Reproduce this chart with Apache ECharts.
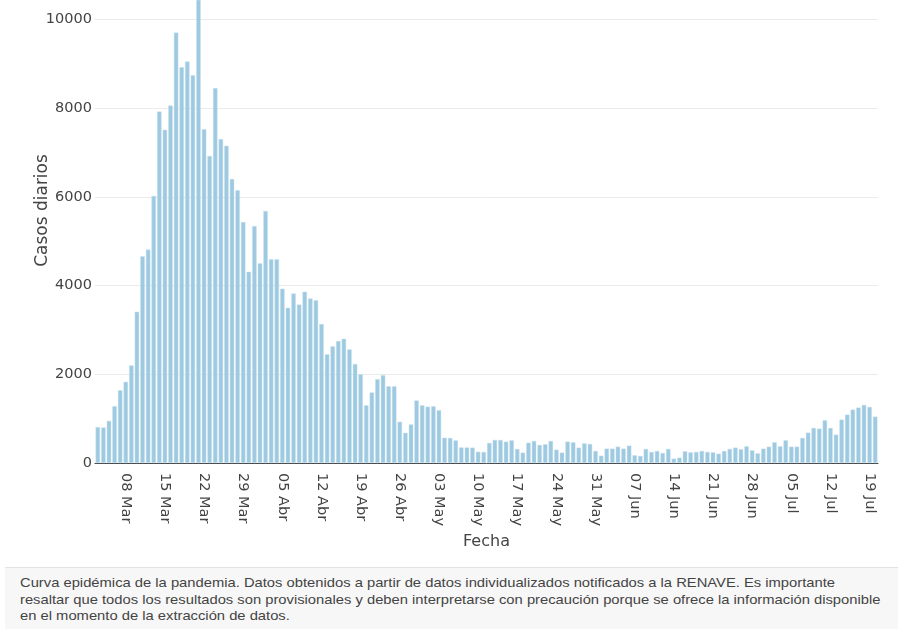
<!DOCTYPE html>
<html>
<head>
<meta charset="utf-8">
<title>Curva epidémica</title>
<script src="https://cdn.jsdelivr.net/npm/echarts@6/dist/echarts.min.js"></script>
<style>
    html, body { margin: 0; padding: 0; background: #fff; }
    #chart-container { position: absolute; left: 0; top: 0; width: 898px; height: 629px; }
    #nota {
        position: absolute; left: 5px; top: 567px; width: 893px; height: 61px;
        background: #f7f7f7; border-top: 1px solid #e3e3e3; overflow: hidden;
    }
    #nota div {
        position: absolute; left: 15px; top: 7px; width: 800px;
        transform: scaleX(1.135); transform-origin: 0 0;
        font-family: "Liberation Sans", Arial, sans-serif; font-size: 13px; line-height: 16.5px; color: #444;
        white-space: nowrap;
    }
</style>
</head>
<body>
<div id="chart-container"></div>
<div id="nota"><div>Curva epidémica de la pandemia. Datos obtenidos a partir de datos individualizados notificados a la RENAVE. Es importante<br>resaltar que todos los resultados son provisionales y deben interpretarse con precaución porque se ofrece la información disponible<br>en el momento de la extracción de datos.</div></div>
<script>
// primer día de la serie y meses para las etiquetas
var startDate = [2020, 2, 3];
var monthNames = ['Ene', 'Feb', 'Mar', 'Abr', 'May', 'Jun', 'Jul', 'Ago', 'Sep', 'Oct', 'Nov', 'Dic'];

// casos diarios (03 Mar - 20 Jul)
var casosDiarios = [
    810, 800, 950, 1280, 1640, 1830, 2200, 3410, 4660, 4810,
    6020, 7920, 7510, 8060, 9700, 8920, 9050, 8740, 10900, 7520,
    6920, 8450, 7300, 7150, 6400, 6150, 5430, 4310, 5340, 4500,
    5680, 4590, 4590, 3930, 3500, 3820, 3570, 3860, 3710, 3670,
    3130, 2450, 2630, 2750, 2800, 2560, 2230, 2000, 1300, 1590,
    1890, 1980, 1730, 1730, 930, 680, 870, 1410, 1300, 1270,
    1280, 1190, 570, 565, 510, 350, 350, 347, 255, 249,
    452, 519, 519, 482, 512, 317, 234, 459, 497, 407,
    422, 497, 301, 234, 482, 467, 347, 444, 429, 271,
    166, 324, 324, 369, 324, 392, 174, 159, 317, 249,
    271, 226, 317, 99, 121, 264, 241, 249, 271, 249,
    241, 211, 271, 317, 347, 309, 377, 286, 219, 324,
    369, 467, 377, 512, 369, 369, 565, 685, 790, 775,
    963, 790, 640, 978, 1091, 1204, 1249, 1309, 1264, 1046
];

var yTicks = [0, 2000, 4000, 6000, 8000, 10000];
var yMax = 10435; // el pico sale por arriba del recorte

(function () {
    var domChart = document.getElementById('chart-container');
    var ioChart = echarts.init(domChart);

    var fechas = [];
    for (var i = 0; i < casosDiarios.length; i++) {
        var d = new Date(startDate[0], startDate[1], startDate[2] + i);
        var dd = d.getDate() < 10 ? '0' + d.getDate() : '' + d.getDate();
        fechas.push(dd + ' ' + monthNames[d.getMonth()]);
    }

    var txtColor = '#444';
    var chartOption = {
        backgroundColor: 'rgba(0,0,0,0)',
        animation: false,
        textStyle: {
            fontFamily: 'DejaVu Sans'
        },
        grid: {
            left: 95,
            right: 20,
            top: 0,
            bottom: 166
        },
        xAxis: {
            type: 'category',
            data: fechas,
            name: 'Fecha',
            nameLocation: 'middle',
            nameGap: 68,
            nameTextStyle: {
                color: txtColor,
                fontSize: 16
            },
            axisTick: { show: false },
            axisLine: {
                lineStyle: { color: '#444', width: 1 }
            },
            axisLabel: {
                rotate: -90,
                margin: 10,
                color: txtColor,
                fontSize: 14.5,
                interval: function (index) {
                    return (index - 5) % 7 === 0;
                }
            }
        },
        yAxis: {
            type: 'value',
            min: yTicks[0],
            max: yMax,
            interval: yTicks[1] - yTicks[0],
            name: 'Casos diarios',
            nameLocation: 'middle',
            nameRotate: 90,
            nameGap: 44,
            nameMoveOverlap: false,
            nameTextStyle: {
                color: txtColor,
                fontSize: 17,
                padding: [0, 0, 0, 42]
            },
            axisLine: { show: false },
            axisTick: { show: false },
            axisLabel: {
                margin: 3,
                color: txtColor,
                fontSize: 14.5,
                showMaxLabel: false,
                formatter: function (value) {
                    return String(value);
                }
            },
            splitLine: {
                showMaxLine: false,
                lineStyle: { color: '#ebebeb', width: 1 }
            }
        },
        series: [
            {
                name: 'Casos diarios',
                type: 'bar',
                data: casosDiarios,
                barCategoryGap: '20%',
                clip: true,
                itemStyle: {
                    color: '#9ecae1',
                    borderColor: 'rgba(200,224,238,0.9)',
                    borderWidth: 0.5
                }
            }
        ]
    };
    ioChart.setOption(chartOption);
})();
</script>
</body>
</html>
